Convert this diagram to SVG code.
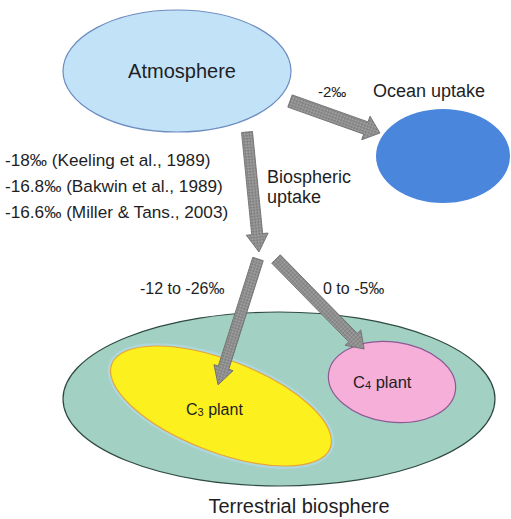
<svg xmlns="http://www.w3.org/2000/svg" width="511" height="519" viewBox="0 0 511 519">
<defs>
<pattern id="chk" width="3" height="3" patternUnits="userSpaceOnUse">
<rect width="3" height="3" fill="#8f8f8f"/>
<rect width="1.5" height="1.5" fill="#7a7a7a"/>
<rect x="1.5" y="1.5" width="1.5" height="1.5" fill="#a3a3a3"/>
</pattern>
</defs>
<style>
text{font-family:"Liberation Sans",Arial,sans-serif;fill:#1e1e24}
.arrow{fill:url(#chk);stroke:#6b6b6b;stroke-width:0.8;stroke-linejoin:miter}
</style>
<rect width="511" height="519" fill="#ffffff"/>
<g id="terrestrial">
<ellipse cx="279" cy="399" rx="216" ry="87" fill="#a2d0c2" stroke="#2f4a42" stroke-width="1.2"/>
<text x="299" y="513" font-size="20" text-anchor="middle">Terrestrial biosphere</text>
</g>
<g id="c3">
<ellipse cx="221" cy="406" rx="120" ry="49" transform="rotate(21 221 406)" fill="#acd7df"/>
<ellipse cx="221" cy="406" rx="117" ry="46" transform="rotate(21 221 406)" fill="#fcf01e" stroke="#e6a536" stroke-width="1.2"/>
<text x="186" y="415" font-size="16">C<tspan font-size="11" dy="1">3</tspan><tspan dy="-1"> plant</tspan></text>
</g>
<g id="c4">
<ellipse cx="392" cy="382" rx="64" ry="40" transform="rotate(8 392 382)" fill="#f5afd9" stroke="#8d5a95" stroke-width="1.2"/>
<text x="353" y="388" font-size="16.5">C<tspan font-size="11" dy="1">4</tspan><tspan dy="-1"> plant</tspan></text>
</g>
<g id="atmosphere">
<ellipse cx="177" cy="71" rx="114" ry="61" fill="#c2e2f8" stroke="#6d8cc0" stroke-width="1.2"/>
<text x="182" y="78" font-size="20" text-anchor="middle">Atmosphere</text>
</g>
<g id="ocean">
<ellipse cx="443" cy="156" rx="67" ry="47" fill="#4a86dc"/>
<text x="373" y="97" font-size="18">Ocean uptake</text>
</g>
<g id="connectors">
<polygon class="arrow" points="0,-6.5 80.5,-6.5 80.5,-12.5 95.5,0 80.5,12.5 80.5,6.5 0,6.5" transform="translate(290,101) rotate(19.6)"/>
<polygon class="arrow" points="0,-5.5 102.6,-5.5 102.6,-11 120.6,0 102.6,11 102.6,5.5 0,5.5" transform="translate(247,132) rotate(84.3)"/>
<polygon class="arrow" points="0,-5.5 114,-5.5 114,-10 132,0 114,10 114,5.5 0,5.5" transform="translate(258,259) rotate(107.6)"/>
<polygon class="arrow" points="0,-6 110,-6 110,-11 126,0 110,11 110,6 0,6" transform="translate(276,259) rotate(45.6)"/>
<text x="318" y="97" font-size="15">-2‰</text>
<text x="267" y="183" font-size="18">Biospheric</text>
<text x="267" y="203" font-size="18">uptake</text>
<text x="140" y="294" font-size="16">-12 to -26‰</text>
<text x="323" y="294" font-size="16">0 to -5‰</text>
</g>
<g id="references">
<text x="5" y="166" font-size="17.2">-18‰ (Keeling et al., 1989)</text>
<text x="5" y="192" font-size="17.2">-16.8‰ (Bakwin et al., 1989)</text>
<text x="5" y="218" font-size="17.2">-16.6‰ (Miller &amp; Tans., 2003)</text>
</g>
</svg>
